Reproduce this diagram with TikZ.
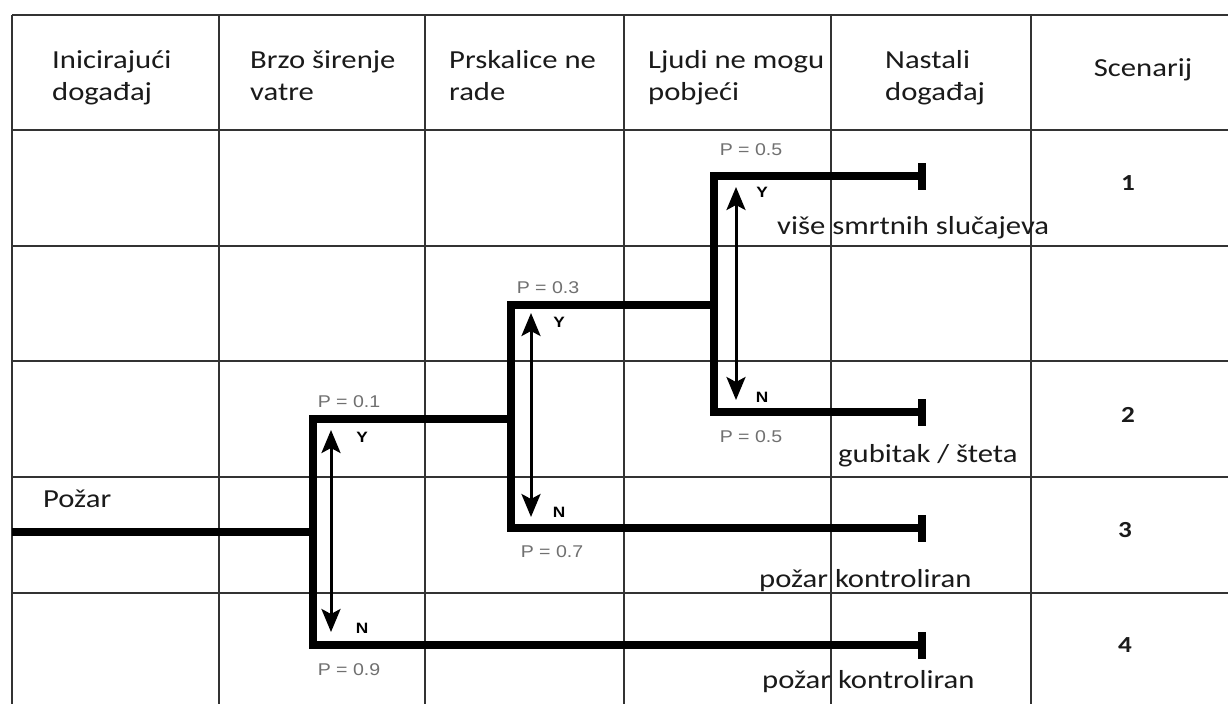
\documentclass[tikz,border=0pt]{standalone}
\usepackage{fontspec}
\setmainfont{Carlito}
\newfontfamily\hdrfont[FakeStretch=1.18]{Carlito}
\newfontfamily\pfont[FakeStretch=1.15]{Liberation Sans}
\usetikzlibrary{arrows.meta}
\definecolor{gridc}{HTML}{333333}
\definecolor{txtc}{HTML}{1A1A1A}
\definecolor{pgray}{HTML}{707070}
\tikzset{
  gridline/.style={draw=gridc, line width=1.6pt},
  tree/.style={draw=black, line width=8.5pt, line join=miter, line cap=rect},
  endbar/.style={draw=black, line width=8.5pt},
  dbl/.style={draw=black, line width=3pt, {Stealth[length=23pt,width=19pt,inset=5pt]}-{Stealth[length=23pt,width=19pt,inset=5pt]}},
  hdr/.style={anchor=base west, inner sep=0pt, text=txtc, font=\hdrfont\fontsize{26}{30}\selectfont},
  lbl/.style={anchor=base west, inner sep=0pt, text=txtc, font=\hdrfont\fontsize{26}{30}\selectfont},
  plab/.style={anchor=center, inner sep=0pt, text=pgray, font=\pfont\fontsize{17}{19}\selectfont},
  yn/.style={anchor=center, inner sep=0pt, text=black, font=\pfont\bfseries\fontsize{15}{17}\selectfont},
  scen/.style={anchor=center, inner sep=0pt, text=txtc, font=\hdrfont\bfseries\fontsize{23}{26}\selectfont}
}
\begin{document}
\begin{tikzpicture}[x=1pt,y=-1pt]
\useasboundingbox (0,0) rectangle (1228,704);
\fill[white] (0,0) rectangle (1228,704);
% grid
\foreach \x in {12,219,425,624,831,1031} \draw[gridline] (\x,15) -- (\x,704);
\foreach \y in {15,130,246,361,477,593} \draw[gridline] (12,\y) -- (1228,\y);
% headers
\node[hdr] (h1a) at (52,68) {Inicirajući};
\node[hdr] (h1b) at (52,100) {događaj};
\node[hdr] (h2a) at (250,68) {Brzo širenje};
\node[hdr] (h2b) at (250,100) {vatre};
\node[hdr] (h3a) at (449,68) {Prskalice ne};
\node[hdr] (h3b) at (449,100) {rade};
\node[hdr] (h4a) at (648,68) {Ljudi ne mogu};
\node[hdr] (h4b) at (648,100) {pobjeći};
\node[hdr] (h5a) at (885,68) {Nastali};
\node[hdr] (h5b) at (885,100) {događaj};
\node[hdr, anchor=base] (h6) at (1143,76) {Scenarij};
% tree coordinates
\coordinate (root) at (12,532);
\coordinate (j1) at (313,532);
\coordinate (b1y) at (313,419);
\coordinate (b1n) at (313,645);
\coordinate (j2) at (511,419);
\coordinate (b2y) at (511,305);
\coordinate (b2n) at (511,528);
\coordinate (j3) at (714,305);
\coordinate (b3y) at (714,176);
\coordinate (b3n) at (714,412);
\coordinate (e1) at (922,176);
\coordinate (e2) at (922,412);
\coordinate (e3) at (922,528);
\coordinate (e4) at (922,645);
% tree
\draw[tree, line cap=butt] (root) -- (j1);
\draw[tree] (j2) -- (b1y) -- (b1n) -- (e4);
\draw[tree] (j3) -- (b2y) -- (b2n) -- (e3);
\draw[tree] (e1) -- (b3y) -- (b3n) -- (e2);
\foreach \e in {e1,e2,e3,e4} \draw[endbar] ([yshift=13pt]\e) -- ([yshift=-14pt]\e);
% arrows
\coordinate (a1t) at (331,430); \coordinate (a1b) at (331,632);
\coordinate (a2t) at (531,313); \coordinate (a2b) at (531,517);
\coordinate (a3t) at (736,187); \coordinate (a3b) at (736,400);
\draw[dbl] (a1t) -- (a1b);
\draw[dbl] (a2t) -- (a2b);
\draw[dbl] (a3t) -- (a3b);
% probabilities
\node[plab] (p1) at (349,402) {P = 0.1};
\node[plab] (p2) at (349,670) {P = 0.9};
\node[plab] (p3) at (548,288) {P = 0.3};
\node[plab] (p4) at (552,552) {P = 0.7};
\node[plab] (p5) at (751,150) {P = 0.5};
\node[plab] (p6) at (751,437) {P = 0.5};
\node[yn] (y1) at (362,437) {Y};
\node[yn] (n1) at (362,628) {N};
\node[yn] (y2) at (559,322) {Y};
\node[yn] (n2) at (559,512) {N};
\node[yn] (y3) at (762,192) {Y};
\node[yn] (n3) at (762,397) {N};
% labels
\node[lbl] (pozar) at (43,507) {Požar};
\node[lbl] (l1) at (777,234) {više smrtnih slučajeva};
\node[lbl] (l2) at (838,462) {gubitak / šteta};
\node[lbl] (l3) at (759,587) {požar kontroliran};
\node[lbl] (l4) at (762,688) {požar kontroliran};
% scenarios
\node[scen] (s1) at (1128,183) {1};
\node[scen] (s2) at (1128,415) {2};
\node[scen] (s3) at (1125,530) {3};
\node[scen] (s4) at (1125,645) {4};
\end{tikzpicture}
\end{document}
